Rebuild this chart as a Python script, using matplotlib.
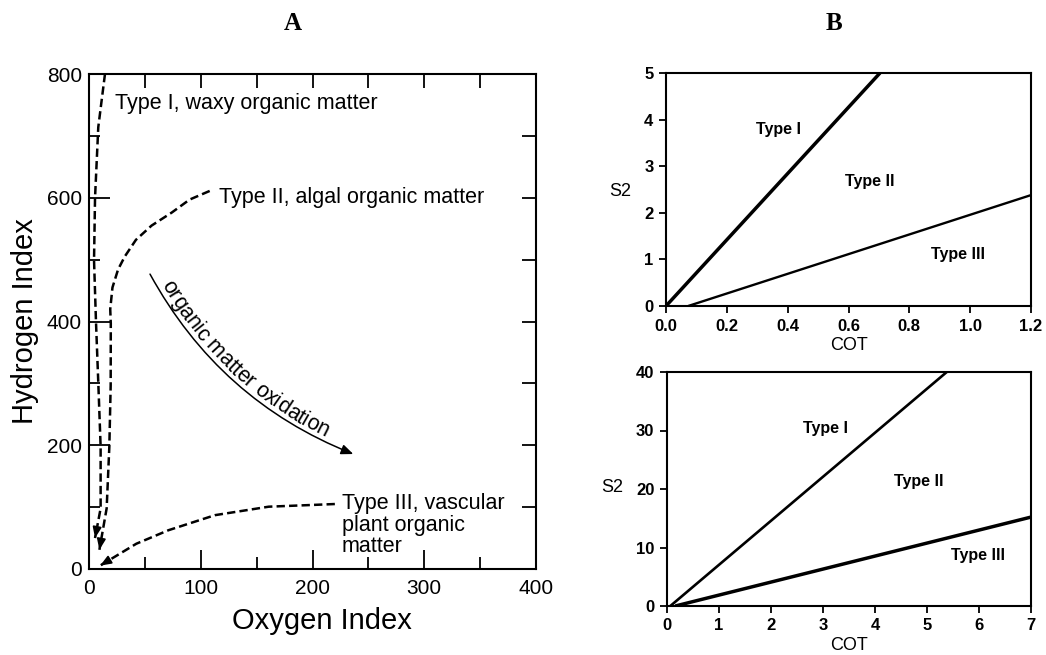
import numpy as np
import matplotlib
matplotlib.use("Agg")
import matplotlib.pyplot as plt
from matplotlib.patches import FancyArrowPatch
from matplotlib.font_manager import FontProperties

plt.rcParams['font.family'] = ['Liberation Sans', 'DejaVu Sans']
plt.rcParams['lines.scale_dashes'] = False

# ---------------- data: panel A (van Krevelen type diagram) ----------------
typeI_oi = [14.3, 11.5, 8.3, 5.4, 4.5, 6.3, 8.4, 10.4, 10.4, 5.4]
typeI_hi = [800, 760, 714, 600, 499, 397, 297, 198, 98, 50]

typeII_oi = [108, 90, 74, 56, 42, 32, 26, 21, 19, 19.5, 19.4, 18.2, 15.8, 9.3]
typeII_hi = [611, 597, 576, 555, 532, 505, 484, 455, 420, 397, 297, 198, 98, 31]

typeIII_oi = [220, 192.8, 160.8, 112.7, 71, 42.3, 10]
typeIII_hi = [105, 103, 100.7, 87, 62.6, 40.8, 5.5]

ox_start = (54.6, 476.6)
ox_end = (236.5, 185.8)

labelA_text = ["Type I, waxy organic matter", "Type II, algal organic matter",
               "Type III, vascular\nplant organic\nmatter"]
labelA_x = [23.3, 116.6, 226]
labelA_y = [753, 600, 106]

# ---------------- data: panel B (S2 vs COT) ----------------
top_typeI_cot = [0.0, 0.7035]
top_typeI_s2 = [0.0, 5.0]
top_typeIII_cot = [0.073, 1.2]
top_typeIII_s2 = [0.0, 2.38]
top_lab_x = [0.369, 0.671, 0.961]
top_lab_y = [3.79, 2.68, 1.11]

bot_typeI_cot = [0.064, 5.38]
bot_typeI_s2 = [0.0, 40.0]
bot_typeIII_cot = [0.16, 7.0]
bot_typeIII_s2 = [0.0, 15.2]
bot_lab_x = [3.04, 4.84, 5.99]
bot_lab_y = [30.4, 21.2, 8.7]

type_names = ["Type I", "Type II", "Type III"]

W, H = 1046, 655
fig = plt.figure(figsize=(W / 100, H / 100), dpi=100)
fig.patch.set_facecolor('white')


def fr(x0, y0, x1, y1):
    return [x0 / W, 1 - y1 / H, (x1 - x0) / W, (y1 - y0) / H]


def px(x, y):
    return (x / W, 1 - y / H)


# ---------------- panel A ----------------
axA = fig.add_axes(fr(89, 74, 536, 569))
axA.set_xlim(0, 400)
axA.set_ylim(0, 800)
for sp in axA.spines.values():
    sp.set_linewidth(1.5)

dash = (6.0, 3.0)
for xs, ys in [(typeI_oi, typeI_hi), (typeII_oi, typeII_hi), (typeIII_oi, typeIII_hi)]:
    axA.plot(xs, ys, color='black', lw=1.8, linestyle=(0, dash),
             solid_capstyle='butt', dash_capstyle='butt', dash_joinstyle='round')
    # arrow head at the end of each curve
    p_end = axA.transData.transform((xs[-1], ys[-1]))
    p_prev = axA.transData.transform((xs[-2], ys[-2]))
    v = p_end - p_prev
    v = v / np.hypot(*v)
    p_back = axA.transData.inverted().transform(p_end - v * 6)
    axA.annotate("", xy=(xs[-1], ys[-1]), xytext=tuple(p_back),
                 arrowprops=dict(arrowstyle='-|>,head_length=0.55,head_width=0.22',
                                 color='black', lw=1.2, shrinkA=0, shrinkB=0,
                                 mutation_scale=12))

axA.set_xticks([0, 100, 200, 300, 400])
axA.set_xticks([50, 150, 250, 350], minor=True)
axA.set_yticks([0, 200, 400, 600, 800])
axA.set_yticks([100, 300, 500, 700], minor=True)
axA.tick_params(axis='both', which='both', direction='in', labelsize=15, width=1.3)
axA.tick_params(axis='x', which='major', length=14, pad=7)
axA.tick_params(axis='x', which='minor', length=9)
axA.tick_params(axis='y', which='major', length=15, pad=5)
axA.tick_params(axis='y', which='minor', length=8)

# top and right ticks
secx = axA.secondary_xaxis('top')
secx.set_xticks([50, 100, 150, 200, 250, 300, 350])
secx.tick_params(direction='in', length=10, width=1.3, labeltop=False)
secx.spines['top'].set_visible(False)
secy = axA.secondary_yaxis('right')
secy.set_yticks([100, 200, 300, 400, 500, 600, 700])
secy.tick_params(direction='in', length=10, width=1.3, labelright=False)
secy.spines['right'].set_visible(False)

line_gap_px = 21.7
for t, x, y in zip(labelA_text, labelA_x, labelA_y):
    base = axA.transData.transform((x, y))
    for j, line in enumerate(t.split("\n")):
        p = axA.transData.inverted().transform((base[0], base[1] - j * line_gap_px))
        axA.text(p[0], p[1], line, fontsize=15.5, ha='left', va='center')

fig.text(*px(322, 621), "Oxygen Index", fontsize=21, ha='center', va='center')
fig.text(*px(25, 321), "Hydrogen Index", fontsize=21, ha='center', va='center',
         rotation=90)

# oxidation arrow (curved)
rad = 0.18
arrow = FancyArrowPatch(ox_start, ox_end, connectionstyle=f"arc3,rad={rad}",
                        arrowstyle='-|>,head_length=0.6,head_width=0.25',
                        mutation_scale=12, lw=1.1, color='black',
                        shrinkA=0, shrinkB=0, transform=axA.transData)
axA.add_patch(arrow)

# ---------------- panel B ----------------
def style_B(ax):
    for sp in ax.spines.values():
        sp.set_linewidth(1.5)
    ax.tick_params(direction='out', length=5, width=1.3, labelsize=12, pad=4)
    for lab in ax.get_xticklabels() + ax.get_yticklabels():
        lab.set_fontweight('bold')


narrow = ['Liberation Sans Narrow', 'Liberation Sans', 'DejaVu Sans']

axB1 = fig.add_axes(fr(666, 73, 1031, 306))
axB1.set_xlim(0, 1.2)
axB1.set_ylim(0, 5)
axB1.plot(top_typeI_cot, top_typeI_s2, color='black', lw=2.5, solid_capstyle='butt')
axB1.plot(top_typeIII_cot, top_typeIII_s2, color='black', lw=1.7, solid_capstyle='butt')
axB1.set_xticks([0, 0.2, 0.4, 0.6, 0.8, 1.0, 1.2])
axB1.set_xticklabels(["0.0", "0.2", "0.4", "0.6", "0.8", "1.0", "1.2"])
axB1.set_yticks([0, 1, 2, 3, 4, 5])
style_B(axB1)
for n, x, y in zip(type_names, top_lab_x, top_lab_y):
    axB1.text(x, y, n, fontsize=11.5, fontweight='bold', family=narrow,
              ha='center', va='center')
fig.text(*px(620, 192), "S2", fontsize=13, ha='center', va='center')
fig.text(*px(849, 345), "COT", fontsize=13, ha='center', va='center')

axB2 = fig.add_axes(fr(667, 372, 1031, 606))
axB2.set_xlim(0, 7)
axB2.set_ylim(0, 40)
axB2.plot(bot_typeI_cot, bot_typeI_s2, color='black', lw=1.9, solid_capstyle='butt')
axB2.plot(bot_typeIII_cot, bot_typeIII_s2, color='black', lw=2.5, solid_capstyle='butt')
axB2.set_xticks(range(0, 8))
axB2.set_yticks([0, 10, 20, 30, 40])
style_B(axB2)
for n, x, y in zip(type_names, bot_lab_x, bot_lab_y):
    axB2.text(x, y, n, fontsize=11.5, fontweight='bold', family=narrow,
              ha='center', va='center')
fig.text(*px(612, 488), "S2", fontsize=13, ha='center', va='center')
fig.text(*px(849, 645), "COT", fontsize=13, ha='center', va='center')

# panel titles
fig.text(*px(293, 23), "A", fontsize=18, fontweight='bold',
         family=['Liberation Serif', 'DejaVu Serif'], ha='center', va='center')
fig.text(*px(834, 23), "B", fontsize=18, fontweight='bold',
         family=['Liberation Serif', 'DejaVu Serif'], ha='center', va='center')

# ---------------- curved text along the oxidation arrow ----------------
fig.canvas.draw()
renderer = fig.canvas.get_renderer()
S = axA.transData.transform(ox_start)
E = axA.transData.transform(ox_end)
mid = (S + E) / 2
d = E - S
C = np.array([mid[0] + rad * d[1], mid[1] - rad * d[0]])
tt = np.linspace(0, 1, 3001)
B = ((1 - tt) ** 2)[:, None] * S + (2 * (1 - tt) * tt)[:, None] * C + (tt ** 2)[:, None] * E
dB = (-2 * (1 - tt))[:, None] * S + (2 - 4 * tt)[:, None] * C + (2 * tt)[:, None] * E
seg = np.hypot(*np.diff(B, axis=0).T)
arc = np.concatenate([[0], np.cumsum(seg)])

curve_text = "organic matter oxidation"
fsize = 15.5
fp = FontProperties(family=['Liberation Sans', 'DejaVu Sans'], size=fsize)


def width(s):
    w1, _, _ = renderer.get_text_width_height_descent(s + "|", fp, ismath=False)
    w0, _, _ = renderer.get_text_width_height_descent("|", fp, ismath=False)
    return w1 - w0


s0 = 15.0
offset = 4.0
prev = 0.0
for i, ch in enumerate(curve_text):
    cur = width(curve_text[:i + 1])
    if ch != " ":
        sc = s0 + (prev + cur) / 2
        k = np.searchsorted(arc, sc)
        k = min(k, len(arc) - 1)
        tvec = dB[k] / np.hypot(*dB[k])
        nvec = np.array([-tvec[1], tvec[0]])
        pos = B[k] + nvec * offset
        ang = np.degrees(np.arctan2(tvec[1], tvec[0]))
        dpos = axA.transData.inverted().transform(pos)
        axA.text(dpos[0], dpos[1], ch, fontproperties=fp, rotation=ang,
                 rotation_mode='anchor', ha='center', va='baseline')
    prev = cur

fig.savefig("out.png", dpi=100, facecolor='white')
